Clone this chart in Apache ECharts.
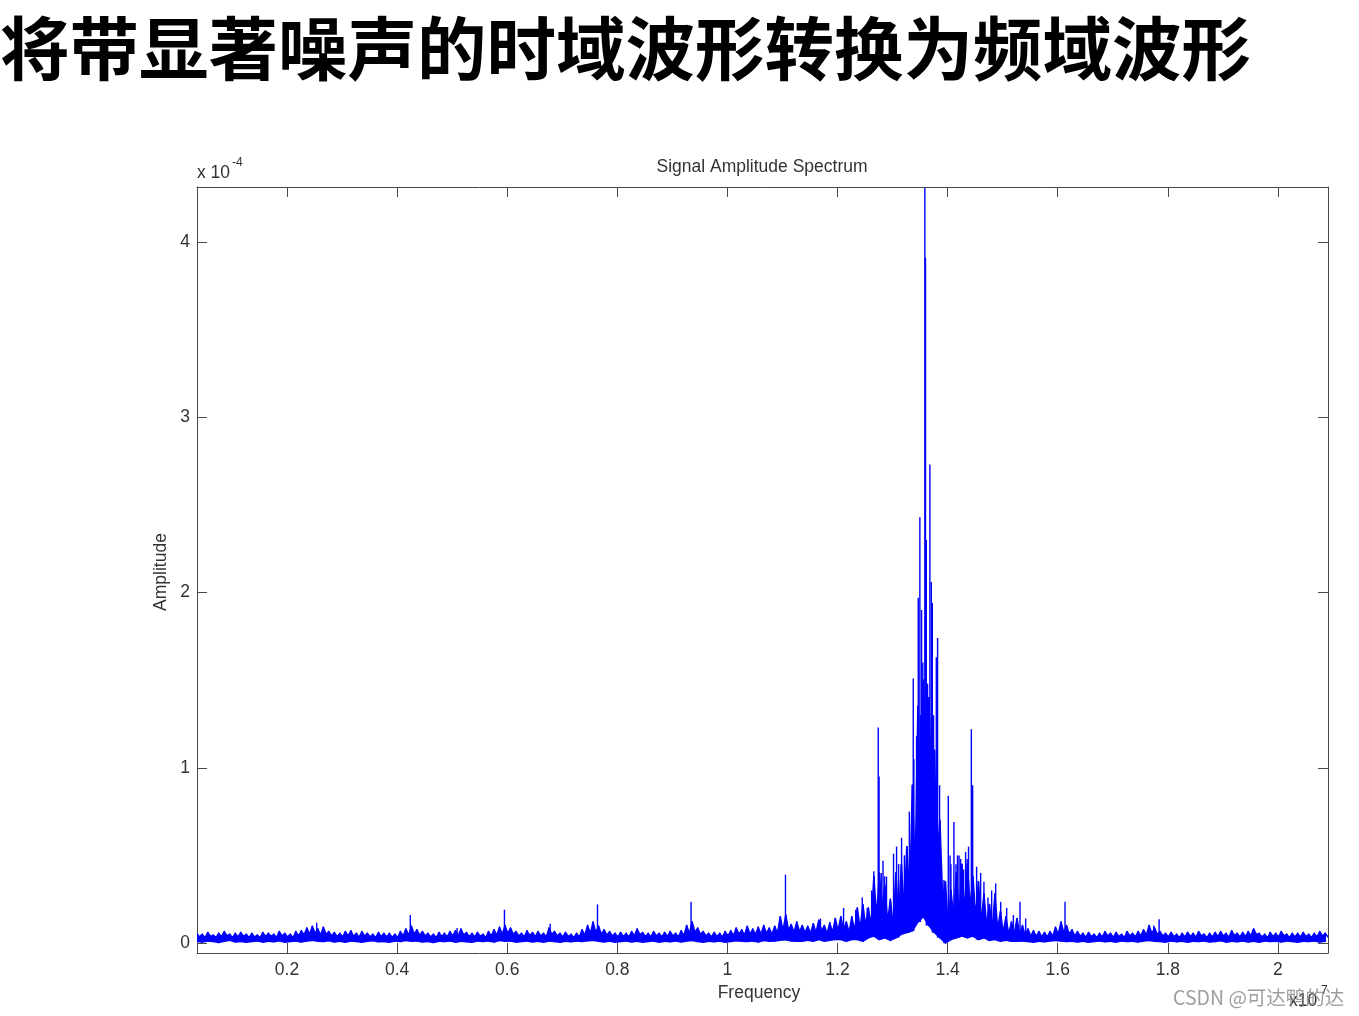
<!DOCTYPE html>
<html>
<head>
<meta charset="utf-8">
<script src="https://cdn.jsdelivr.net/npm/echarts@6/dist/echarts.min.js"></script>
<style>
html,body{margin:0;padding:0;background:#fff;}
#chart{width:1359px;height:1016px;}
</style>
</head>
<body>
<div id="chart"></div>
<script>
// ---- data (frequency in units of 1e7, amplitude in units of 1e-4) ----
const pageTitle = '将带显著噪声的时域波形转换为频域波形';
const chartTitle = 'Signal Amplitude Spectrum';
const xTickValues = [0.2, 0.4, 0.6, 0.8, 1, 1.2, 1.4, 1.6, 1.8, 2];
const yTickValues = [0, 1, 2, 3, 4];

// dense noise-floor envelope, one bin every 0.01 starting at 0.036
const binStart = 0.036;
const binStep = 0.01;
// local maxima at each bin
const floorHi = [
  0.055,0.05,0.06,0.045,0.055,0.065,0.05,0.055,0.06,0.05,
  0.055,0.045,0.06,0.055,0.05,0.065,0.055,0.05,0.065,0.07,
  0.085,0.095,0.08,0.09,0.065,0.06,0.055,0.065,0.07,0.055,
  0.065,0.055,0.05,0.06,0.055,0.055,0.05,0.065,0.08,0.095,
  0.075,0.065,0.055,0.05,0.06,0.055,0.065,0.07,0.08,0.06,
  0.055,0.06,0.05,0.065,0.075,0.09,0.1,0.085,0.065,0.055,
  0.07,0.06,0.065,0.055,0.085,0.065,0.055,0.06,0.05,0.055,
  0.075,0.1,0.12,0.095,0.075,0.065,0.055,0.06,0.055,0.065,
  0.08,0.06,0.055,0.065,0.055,0.06,0.065,0.055,0.07,0.1,
  0.12,0.085,0.065,0.055,0.06,0.055,0.065,0.07,0.085,0.075,
  0.095,0.08,0.09,0.1,0.085,0.095,0.15,0.16,0.105,0.12,
  0.1,0.095,0.11,0.13,0.1,0.115,0.14,0.15,0.12,0.15,
  0.2,0.22,0.2,0.38,0.4,0.33,0.25,0.4,0.45,0.55,
  0.9,1.35,1.5,1.4,1.1,0.7,0.35,0.3,0.4,0.45,
  0.45,0.38,0.35,0.28,0.22,0.28,0.18,0.15,0.12,0.14,
  0.1,0.08,0.07,0.065,0.06,0.065,0.09,0.12,0.1,0.075,
  0.065,0.055,0.06,0.05,0.055,0.065,0.055,0.06,0.05,0.065,
  0.055,0.065,0.075,0.1,0.085,0.065,0.055,0.06,0.05,0.055,
  0.06,0.055,0.065,0.05,0.055,0.06,0.065,0.055,0.07,0.055,
  0.06,0.065,0.08,0.055,0.05,0.06,0.055,0.065,0.05,0.055,
  0.055,0.06,0.05,0.055,0.065,0.055
];
// local dips half a bin further on
const floorDip = [
  0.035,0.03,0.038,0.032,0.036,0.04,0.03,0.034,0.038,0.03,
  0.034,0.03,0.036,0.038,0.032,0.04,0.035,0.03,0.04,0.045,
  0.05,0.055,0.045,0.05,0.04,0.036,0.034,0.04,0.038,0.032,
  0.04,0.035,0.03,0.036,0.034,0.032,0.03,0.04,0.045,0.05,
  0.045,0.04,0.034,0.03,0.036,0.034,0.04,0.042,0.045,0.036,
  0.034,0.038,0.03,0.04,0.045,0.05,0.055,0.05,0.04,0.034,
  0.042,0.036,0.04,0.034,0.048,0.04,0.034,0.036,0.03,0.034,
  0.045,0.055,0.06,0.05,0.045,0.04,0.034,0.036,0.034,0.04,
  0.048,0.036,0.034,0.04,0.034,0.036,0.04,0.034,0.042,0.055,
  0.06,0.05,0.04,0.034,0.036,0.034,0.04,0.042,0.05,0.045,
  0.05,0.048,0.05,0.055,0.05,0.055,0.07,0.075,0.06,0.065,
  0.06,0.055,0.06,0.07,0.055,0.06,0.07,0.075,0.06,0.07,
  0.08,0.1,0.1,0.15,0.2,0.12,0.1,0.15,0.2,0.25,
  0.4,0.8,1.0,0.9,0.5,0.25,0.1,0.15,0.15,0.18,
  0.2,0.15,0.12,0.1,0.08,0.08,0.06,0.05,0.05,0.05,
  0.04,0.04,0.038,0.035,0.034,0.038,0.05,0.06,0.05,0.04,
  0.038,0.032,0.036,0.03,0.034,0.04,0.032,0.036,0.03,0.04,
  0.034,0.04,0.045,0.055,0.05,0.04,0.034,0.036,0.03,0.034,
  0.036,0.032,0.04,0.03,0.034,0.036,0.04,0.032,0.042,0.034,
  0.036,0.04,0.048,0.034,0.03,0.036,0.034,0.04,0.03,0.034,
  0.034,0.036,0.03,0.034,0.04,0.034
];
// lower edge at each bin
const floorLo = [
  0.01,0.005,0.012,0.008,0.003,0.01,0.015,0.006,0.009,0.004,
  0.008,0.012,0.005,0.01,0.007,0.013,0.004,0.009,0.011,0.006,
  0.012,0.015,0.01,0.008,0.013,0.006,0.01,0.004,0.012,0.008,
  0.005,0.01,0.013,0.007,0.009,0.004,0.011,0.008,0.014,0.01,
  0.012,0.006,0.009,0.003,0.01,0.008,0.012,0.005,0.01,0.007,
  0.004,0.011,0.008,0.012,0.006,0.014,0.01,0.012,0.005,0.009,
  0.011,0.006,0.01,0.004,0.012,0.008,0.005,0.01,0.007,0.012,
  0.009,0.013,0.015,0.01,0.006,0.011,0.004,0.009,0.012,0.006,
  0.01,0.005,0.008,0.012,0.004,0.01,0.007,0.011,0.006,0.012,
  0.014,0.009,0.005,0.01,0.007,0.012,0.004,0.009,0.013,0.01,
  0.008,0.012,0.006,0.014,0.01,0.011,0.016,0.018,0.012,0.01,
  0.01,0.015,0.01,0.02,0.01,0.015,0.02,0.02,0.01,0.02,
  0.02,0.01,0.03,0.04,0.02,0.03,0.015,0.03,0.05,0.06,
  0.07,0.12,0.15,0.1,0.06,0.03,0.0,0.02,0.03,0.04,
  0.03,0.04,0.02,0.03,0.015,0.02,0.01,0.015,0.01,0.01,
  0.012,0.008,0.005,0.01,0.007,0.011,0.014,0.012,0.008,0.01,
  0.006,0.01,0.004,0.009,0.012,0.007,0.01,0.005,0.011,0.008,
  0.01,0.006,0.012,0.014,0.01,0.008,0.005,0.011,0.007,0.01,
  0.004,0.01,0.008,0.012,0.006,0.009,0.013,0.005,0.01,0.007,
  0.012,0.006,0.01,0.004,0.011,0.008,0.01,0.006,0.012,0.009,
  0.005,0.01,0.008,0.012,0.006,0.01
];

// individual spectral lines
const spikeFreq = [
  0.254,0.424,0.509,0.595,0.678,0.764,0.836,0.934,1.1055,1.169,
  1.211,1.233,1.245,1.254,1.262,1.266,1.274,1.2755,1.2795,1.2827,
  1.2855,1.289,1.2964,1.3018,1.3073,1.311,1.3164,1.3215,1.3255,1.3296,
  1.3305,1.3376,1.3387,1.3436,1.345,1.3467,1.3496,1.3505,1.3527,1.355,
  1.3587,1.3598,1.3613,1.3636,1.366,1.3678,1.3704,1.3722,1.3745,1.3763,
  1.3795,1.3818,1.3854,1.3933,1.4013,1.4045,1.406,1.4115,1.4152,1.418,
  1.4208,1.4236,1.429,1.4327,1.4355,1.438,1.4431,1.4455,1.4527,1.46,
  1.466,1.4733,1.48,1.4873,1.4964,1.5073,1.5195,1.5315,1.5418,1.6133,
  1.7745,1.7842,1.954
];
const spikeAmp = [
  0.115,0.16,0.085,0.19,0.11,0.22,0.08,0.235,0.39,0.14,
  0.2,0.19,0.26,0.2,0.3,0.41,1.23,0.95,0.4,0.47,
  0.38,0.38,0.235,0.51,0.55,0.45,0.6,0.5,0.55,0.4,
  0.75,1.51,1.05,1.18,1.0,1.97,2.43,1.3,1.9,1.6,
  4.31,3.91,2.3,1.48,1.37,2.73,2.06,1.94,1.3,1.1,
  1.63,1.74,0.9,0.36,0.84,0.5,0.45,0.69,0.45,0.5,
  0.5,0.48,0.42,0.52,0.48,0.55,1.22,0.9,0.435,0.4,
  0.35,0.26,0.3,0.34,0.235,0.2,0.16,0.235,0.14,0.235,
  0.1,0.136,0.075
];

const binX = floorHi.map((_, i) => binStart + i * binStep);
const bandData = binX.map((x, i) => [x, floorLo[i], floorHi[i], floorDip[i]]);
const spikeData = spikeFreq.map((f, i) => {
  const k = Math.min(floorLo.length - 1, Math.max(0, Math.round((f - binStart) / binStep)));
  return [f, floorLo[k], spikeAmp[i]];
});

const blue = '#0000ff';
const axisColor = '#4a4a4a';
const labelColor = '#333';
const fontFam = '"Liberation Sans", Arial, sans-serif';
const fs = 17.5;

const chart = echarts.init(document.getElementById('chart'), null, {renderer: 'canvas'});
const xMin = 0.0365, xMax = 2.091, yMin = -0.057, yMax = 4.314;

function xAxisCfg(pos, showLabel) {
  return {
    type: 'value', position: pos, min: xMin, max: xMax,
    splitLine: {show: false},
    axisLine: {show: true, onZero: false, lineStyle: {color: axisColor, width: 1}},
    axisTick: {show: true, inside: true, length: 10, customValues: xTickValues, lineStyle: {color: axisColor}},
    axisLabel: {show: showLabel, customValues: xTickValues, margin: 8, color: labelColor,
      fontSize: fs, fontFamily: fontFam, formatter: v => String(+(+v).toFixed(1))}
  };
}
function yAxisCfg(pos, showLabel) {
  return {
    type: 'value', position: pos, min: yMin, max: yMax,
    splitLine: {show: false},
    axisLine: {show: true, onZero: false, lineStyle: {color: axisColor, width: 1}},
    axisTick: {show: true, inside: true, length: 10, customValues: yTickValues, lineStyle: {color: axisColor}},
    axisLabel: {show: showLabel, customValues: yTickValues, margin: 7, color: labelColor,
      fontSize: fs, fontFamily: fontFam, formatter: v => String(Math.round(v))}
  };
}

chart.setOption({
  animation: false,
  backgroundColor: '#fff',
  grid: {left: 197, top: 187, right: 31, bottom: 63, outerBoundsMode: 'none', containLabel: false},
  xAxis: [xAxisCfg('bottom', true), xAxisCfg('top', false)],
  yAxis: [yAxisCfg('left', true), yAxisCfg('right', false)],
  series: [{
    type: 'custom', name: 'floor', data: bandData, clip: true,
    encode: {x: 0, y: [1, 2]},
    renderItem: function (params, api) {
      const i = params.dataIndex;
      const j = Math.min(i + 1, bandData.length - 1);
      const a = bandData[i], b = bandData[j];
      const pts = [
        api.coord([a[0], a[2]]),
        api.coord([a[0] + binStep / 2, a[3]]),
        api.coord([b[0], b[2]]),
        api.coord([b[0], b[1]]),
        api.coord([a[0], a[1]])
      ];
      return {type: 'polygon', shape: {points: pts},
        style: {fill: blue, stroke: blue, lineWidth: 1.5, lineJoin: 'round'}};
    },
    emphasis: {disabled: true}, silent: true
  }, {
    type: 'custom', name: 'lines', data: spikeData, clip: true,
    encode: {x: 0, y: [1, 2]},
    renderItem: function (params, api) {
      const a = api.coord([api.value(0), api.value(1)]);
      const b = api.coord([api.value(0), api.value(2)]);
      return {type: 'line', shape: {x1: a[0], y1: a[1], x2: b[0], y2: b[1]},
        style: {stroke: blue, lineWidth: 1.4}};
    },
    emphasis: {disabled: true}, silent: true
  }],
  graphic: [
    {type: 'text', left: 0, top: 14, style: {text: pageTitle, fontSize: 69.5, fontWeight: 'bold',
      fontFamily: '"Noto Sans CJK SC", sans-serif', fill: '#000'}},
    {type: 'text', x: 762, y: 167, style: {text: chartTitle, fontSize: fs, fontFamily: fontFam,
      fill: '#333', align: 'center', verticalAlign: 'middle'}},
    {type: 'text', x: 197, y: 173, style: {text: 'x 10', fontSize: fs, fontFamily: fontFam,
      fill: '#333', align: 'left', verticalAlign: 'middle'}},
    {type: 'text', x: 232, y: 163, style: {text: '-4', fontSize: 12, fontFamily: fontFam,
      fill: '#333', align: 'left', verticalAlign: 'middle'}},
    {type: 'text', x: 759, y: 993, style: {text: 'Frequency', fontSize: fs, fontFamily: fontFam,
      fill: '#333', align: 'center', verticalAlign: 'middle'}},
    {type: 'text', x: 161, y: 572, rotation: Math.PI / 2, style: {text: 'Amplitude', fontSize: fs,
      fontFamily: fontFam, fill: '#333', align: 'center', verticalAlign: 'middle'}},
    {type: 'text', x: 1289, y: 1001, style: {text: 'x10', fontSize: fs, fontFamily: fontFam,
      fill: '#333', align: 'left', verticalAlign: 'middle'}},
    {type: 'text', x: 1321, y: 991, style: {text: '7', fontSize: 12, fontFamily: fontFam,
      fill: '#333', align: 'left', verticalAlign: 'middle'}},
    {type: 'text', x: 1173, y: 998, style: {text: 'CSDN @可达鸭的达', fontSize: 19.5,
      fontFamily: '"Noto Sans CJK SC", sans-serif', fill: 'rgba(140,140,140,0.85)',
      align: 'left', verticalAlign: 'middle'}}
  ]
});
</script>
</body>
</html>
